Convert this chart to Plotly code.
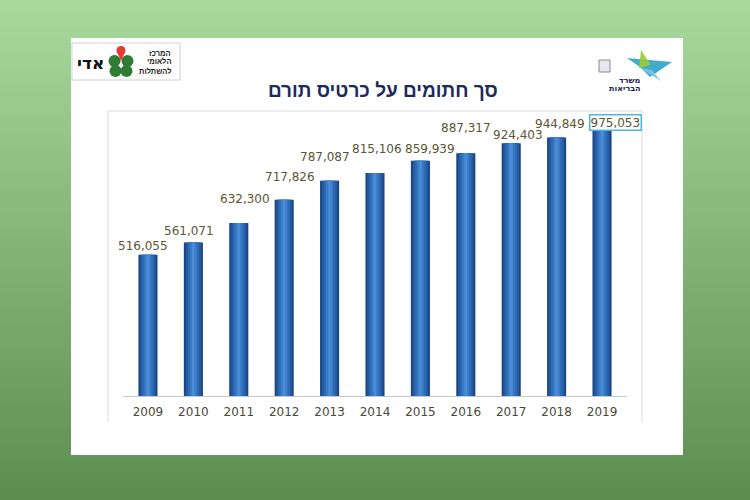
import plotly.graph_objects as go

# ---------------- data ----------------
years = ["2009", "2010", "2011", "2012", "2013", "2014", "2015", "2016", "2017", "2018", "2019"]
signed = [516055, 561071, 632300, 717826, 787087, 815106, 859939, 887317, 924403, 944849, 975053]
title_text = "סך חתומים על כרטיס תורם"

# label nudges (pixels) : horizontal shift, vertical gap above bar top
label_dx = [-5, -4, 6, 6, -5, 2, 10, 0, 7, 3, 13]
label_dy = [9, 12, 24, 23, 24, 24, 12, 25, 8, 14, 7]

W, H = 750, 500
L, R, T, B = 123, 627, 111, 396  # plot area in pixels


def px(x):
    return (x - L) / (R - L)


def py(y):
    return (B - y) / (B - T)


shapes = []
# gradient background
n = 80
top_c = (169, 218, 157)
bot_c = (92, 142, 82)
for i in range(n):
    f = (i + 0.5) / n
    c = tuple(int(round(top_c[k] + (bot_c[k] - top_c[k]) * f)) for k in range(3))
    shapes.append(dict(type="rect", xref="paper", yref="paper",
                       x0=px(-2), x1=px(W + 2), y0=py(H * i / n - 0.5), y1=py(H * (i + 1) / n + 0.5),
                       fillcolor="rgb(%d,%d,%d)" % c, line=dict(width=0), layer="below"))
# white panel
shapes.append(dict(type="rect", xref="paper", yref="paper", x0=px(71), x1=px(683), y0=py(38), y1=py(455),
                   fillcolor="white", line=dict(width=0), layer="below"))
# chart frame (left, top, right)
for (x0, y0, x1, y1) in [(108, 111, 108, 422), (108, 111, 642, 111), (642, 111, 642, 422)]:
    shapes.append(dict(type="line", xref="paper", yref="paper", x0=px(x0), y0=py(y0), x1=px(x1), y1=py(y1),
                       line=dict(color="#dcdcdc", width=1), layer="below"))

# left logo box
shapes.append(dict(type="rect", xref="paper", yref="paper", x0=px(72), x1=px(180), y0=py(43), y1=py(80),
                   fillcolor="white", line=dict(color="#d0d0d0", width=1)))
# clover leaves
cx, cy = 121, 64
for dx, dy in [(-6.5, -3), (6.5, -3), (-5.5, 7), (5.5, 7)]:
    r = 6
    shapes.append(dict(type="circle", xref="paper", yref="paper",
                       x0=px(cx + dx - r), x1=px(cx + dx + r), y0=py(cy + dy - r), y1=py(cy + dy + r),
                       fillcolor="#2e7d32", line=dict(width=0)))
shapes.append(dict(type="circle", xref="paper", yref="paper",
                   x0=px(cx - 4.5), x1=px(cx + 4.5), y0=py(46), y1=py(55),
                   fillcolor="#e53935", line=dict(width=0)))
shapes.append(dict(type="path", xref="paper", yref="paper",
                   path="M %f %f L %f %f L %f %f Z" % (px(cx - 4), py(52), px(cx + 4), py(52), px(cx), py(61)),
                   fillcolor="#e53935", line=dict(width=0)))

# right logo: emblem and star
shapes.append(dict(type="rect", xref="paper", yref="paper", x0=px(599), x1=px(610), y0=py(60), y1=py(72),
                   fillcolor="#e6e6ee", line=dict(color="#8a8a99", width=1)))
shapes.append(dict(type="path", xref="paper", yref="paper",
                   path="M %f %f L %f %f L %f %f L %f %f Z" % (px(627), py(58), px(672), py(62), px(650), py(77), px(640), py(67)),
                   fillcolor="#2aa3c9", line=dict(width=0), opacity=0.9))
shapes.append(dict(type="path", xref="paper", yref="paper",
                   path="M %f %f L %f %f L %f %f Z" % (px(641), py(50), px(651), py(65), px(639), py(68)),
                   fillcolor="#9ccc3a", line=dict(width=0), opacity=0.9))
shapes.append(dict(type="path", xref="paper", yref="paper",
                   path="M %f %f L %f %f L %f %f Z" % (px(640), py(68), px(652), py(70), px(661), py(81)),
                   fillcolor="#7fc4e0", line=dict(width=0), opacity=0.9))

# ---------------- figure ----------------
fig = go.Figure()
layers = [(0.42, "#1b4680"), (0.34, "#255a9e"), (0.25, "#2e6bb6"), (0.15, "#3a7cc8"), (0.06, "#4a8cd6")]
for w, col in layers:
    fig.add_trace(go.Bar(x=years, y=signed, width=w, marker=dict(color=col, line=dict(width=0)),
                         hoverinfo="skip", showlegend=False))

annotations = []
for i, v in enumerate(signed):
    a = dict(x=i, y=v, xref="x", yref="y", text=f"{v:,}", showarrow=False,
             xshift=label_dx[i], yshift=label_dy[i], yanchor="middle",
             font=dict(family="DejaVu Sans", size=12, color="#5a5534"))
    if i == len(signed) - 1:
        a.update(bordercolor="#4fb8e0", borderwidth=1.5, borderpad=0, bgcolor="white")
    annotations.append(a)

annotations.append(dict(xref="paper", yref="paper", x=px(383), y=py(90), text="<b>" + title_text + "</b>",
                        showarrow=False, font=dict(family="Liberation Sans", size=19, color="#1c2a5e"),
                        xanchor="center", yanchor="middle"))
# left logo text
annotations.append(dict(xref="paper", yref="paper", x=px(90), y=py(63), text="<b>אדי</b>", showarrow=False,
                        font=dict(family="DejaVu Sans", size=17, color="#111111"), xanchor="center", yanchor="middle"))
for t, yy in [("המרכז", 53), ("הלאומי", 62), ("להשתלות", 71)]:
    annotations.append(dict(xref="paper", yref="paper", x=px(173), y=py(yy), text="<b>" + t + "</b>", showarrow=False,
                            font=dict(family="Liberation Sans", size=7.5, color="#222222"), xanchor="right", yanchor="middle"))
# right logo text
for t, yy, s in [("משרד", 80, 8), ("הבריאות", 88, 8)]:
    annotations.append(dict(xref="paper", yref="paper", x=px(643), y=py(yy), text="<b>" + t + "</b>", showarrow=False,
                            font=dict(family="DejaVu Sans", size=s, color="#1c2a5e"), xanchor="right", yanchor="middle"))

fig.update_layout(
    width=W, height=H, barmode="overlay",
    margin=dict(l=L, r=W - R, t=T, b=H - B, pad=0),
    paper_bgcolor="white", plot_bgcolor="rgba(0,0,0,0)",
    shapes=shapes, annotations=annotations,
    xaxis=dict(type="category", range=[-0.55, 10.55], showline=True, linecolor="#c8c8c8", linewidth=1,
               ticks="", showgrid=False, zeroline=False, ticklabelstandoff=5,
               tickfont=dict(family="DejaVu Sans", size=12, color="#4a4838")),
    yaxis=dict(range=[0, 1042000], visible=False, showgrid=False, zeroline=False),
)
fig.write_html("out.html", config={"displayModeBar": False},
               post_script="document.body.style.margin='0';")
